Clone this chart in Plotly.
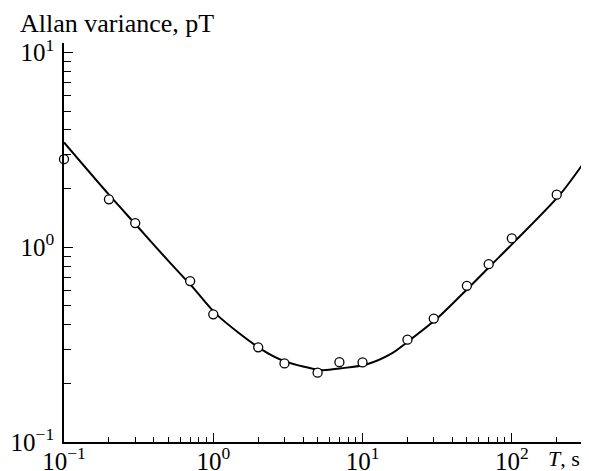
import plotly.graph_objects as go

# measured points (T in s, Allan variance in pT)
T_meas = [0.1, 0.2, 0.3, 0.7, 1, 2, 3, 5, 7, 10, 20, 30, 50, 70, 100, 200, 300]
av_meas = [2.83, 1.76, 1.33, 0.67, 0.452, 0.306, 0.253, 0.227, 0.257, 0.256,
           0.335, 0.43, 0.633, 0.818, 1.11, 1.86, 2.42]

# fitted curve
T_fit = [0.1, 0.2, 0.31, 0.5, 0.725, 1.05, 2.09, 3.0, 5.3, 7.2, 10.6, 15.7,
         20.5, 31.5, 52, 72.8, 106, 210, 300]
av_fit = [3.45, 1.86, 1.28, 0.85, 0.625, 0.452, 0.30, 0.26, 0.234, 0.239,
          0.25, 0.285, 0.331, 0.43, 0.625, 0.81, 1.08, 1.86, 2.68]

major_vals = [0.1, 1, 10, 100]
major_text = ["10<sup>−1</sup>", "10<sup>0</sup>", "10<sup>1</sup>", "10<sup>2</sup>"]
minor_x = [m * d for d in (0.1, 1, 10, 100) for m in range(2, 10) if m * d <= 300]
minor_y = [m * d for d in (0.1, 1) for m in range(2, 10)]

serif = "Liberation Serif, Times New Roman, serif"
font = dict(family=serif, size=25, color="black")
title_font = dict(family=serif, size=26, color="black")

fig = go.Figure()
fig.add_trace(go.Scatter(
    x=T_fit, y=av_fit, mode="lines",
    line=dict(color="black", width=2, shape="spline", smoothing=0.8),
    cliponaxis=False,
))
fig.add_trace(go.Scatter(
    x=T_meas, y=av_meas, mode="markers",
    marker=dict(symbol="circle", size=9, color="white", line=dict(color="black", width=1.3)),
    cliponaxis=False,
))

axis_common = dict(
    type="log", showgrid=False, zeroline=False, showline=True, linecolor="black",
    linewidth=1.6, ticks="inside", ticklen=9, tickwidth=1.3, tickcolor="black",
    tickfont=font, automargin=False,
)
fig.update_xaxes(
    **axis_common, range=[-1, 2.477], tickvals=major_vals, ticktext=major_text,
    ticklabelstandoff=-4,
    minor=dict(ticks="inside", ticklen=5, tickwidth=1.2, tickcolor="black", tickvals=minor_x),
)
fig.update_yaxes(
    **axis_common, range=[-1, 1.048], tickvals=[0.1, 1, 10], ticktext=major_text[:3],
    ticklabelstandoff=3,
    minor=dict(ticks="inside", ticklen=7, tickwidth=1.2, tickcolor="black", tickvals=minor_y),
)

fig.add_annotation(text="Allan variance, pT", xref="paper", yref="paper", x=0, y=1,
                   xanchor="left", yanchor="bottom", xshift=-46, yshift=3,
                   showarrow=False, font=title_font)
fig.add_annotation(text="<i>T</i>, s", xref="paper", yref="paper", x=1, y=0,
                   xanchor="right", yanchor="top", xshift=-1, yshift=-2,
                   showarrow=False, font=dict(family=serif, size=22, color="black"))

# the page adds an 8px body margin, so the figure is drawn 8px smaller
fig.update_layout(
    width=581, height=463, showlegend=False,
    margin=dict(l=56, r=6, t=35, b=29),
    plot_bgcolor="white", paper_bgcolor="white", font=font,
)

fig.write_html("out.html")
